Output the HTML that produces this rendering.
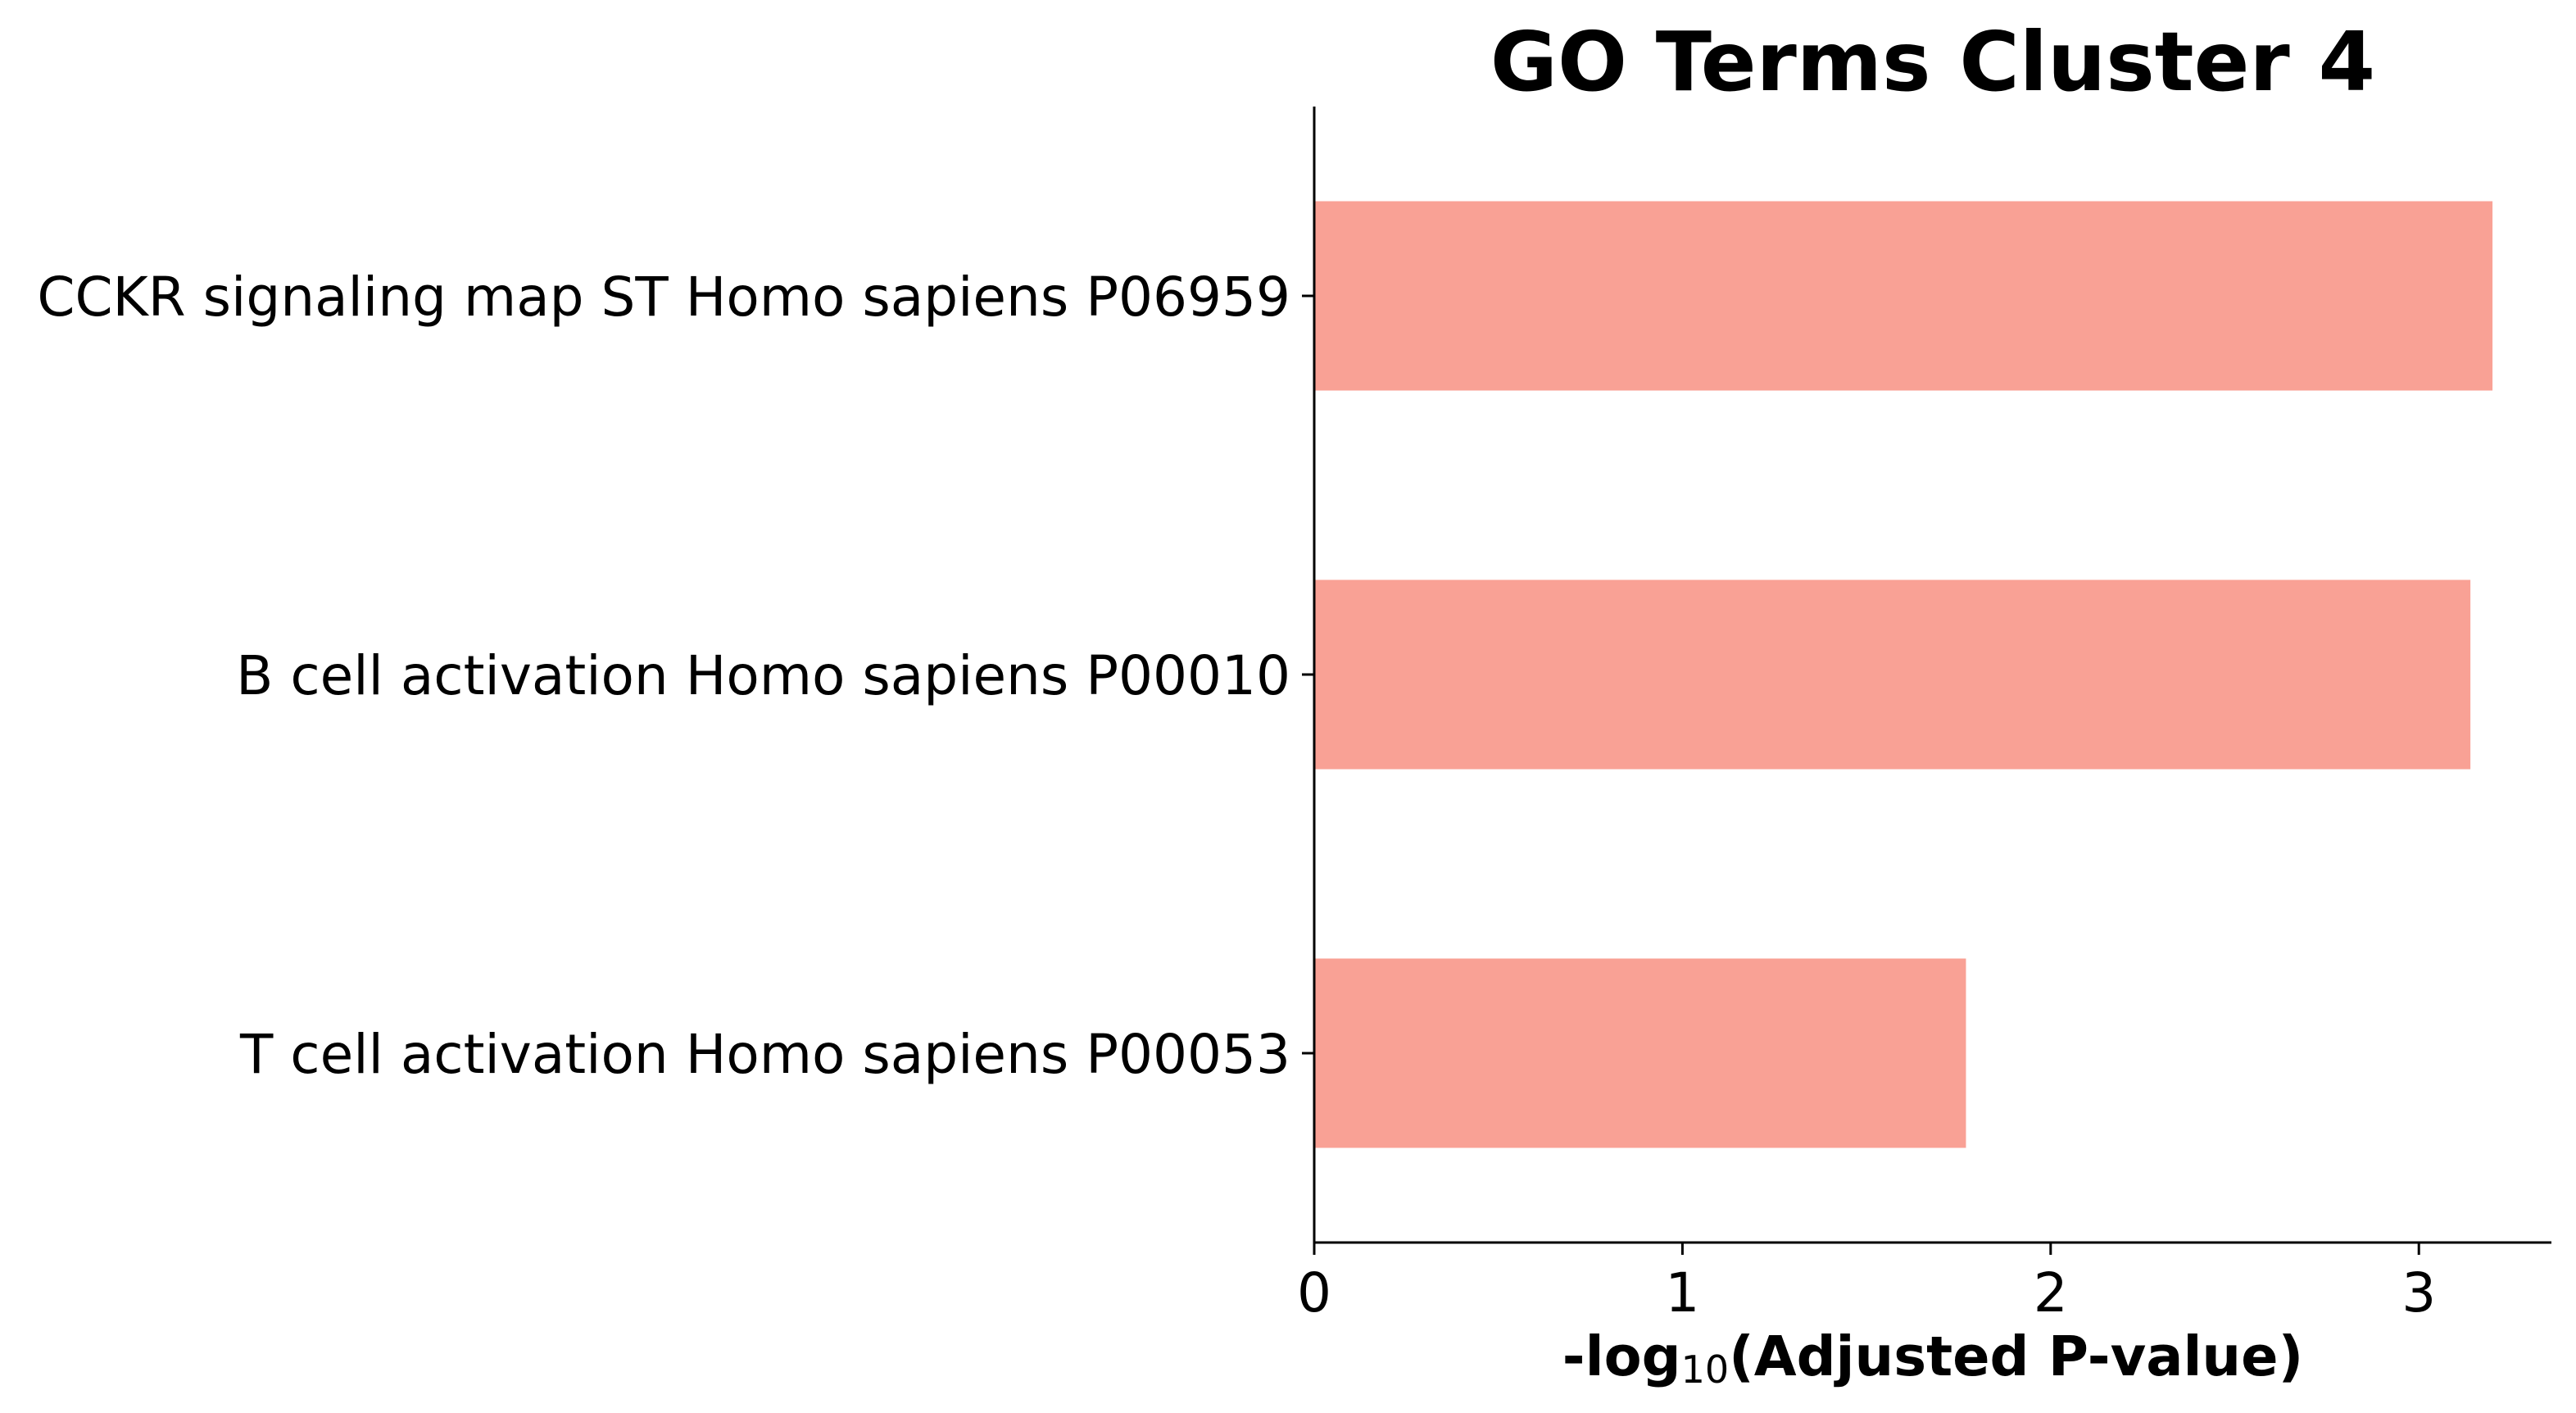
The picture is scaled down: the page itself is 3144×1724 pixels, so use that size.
<!DOCTYPE html>
<html><head><meta charset="utf-8"><style>
html,body{margin:0;padding:0;background:#fff;}
svg{display:block;font-family:"DejaVu Sans","Liberation Sans",sans-serif;}
</style></head><body>
<svg id="chart" width="3144" height="1724" viewBox="0 0 3144 1724">
<text x="2359" y="110" font-size="100" font-weight="bold" text-anchor="middle">GO Terms Cluster 4</text>
<g id="bars"></g>
<g id="axes"></g>
<text x="2359" y="1678" font-size="67" font-weight="bold" text-anchor="middle">-log<tspan font-size="46" font-weight="normal" dy="9">10</tspan><tspan dy="-9">(Adjusted P-value)</tspan></text>
</svg>
<script>
const categories = ["CCKR signaling map ST Homo sapiens P06959","B cell activation Homo sapiens P00010","T cell activation Homo sapiens P00053"];
const values = [3.20, 3.14, 1.77];
const xTicks = [0, 1, 2, 3];
const xMax = 3.36;

const L = 1604, R = 3114, T = 130, B = 1516;
const NS = "http://www.w3.org/2000/svg";
const xs = v => L + (v / xMax) * (R - L);
const band = (B - T) / 3;
const yc = i => T + band * (i + 0.5);
const bh = band * 0.5;

const bars = document.getElementById('bars');
const axes = document.getElementById('axes');
function mk(tag, attrs, parent){const e=document.createElementNS(NS,tag);for(const k in attrs)e.setAttribute(k,attrs[k]);parent.appendChild(e);return e;}

values.forEach((v,i)=>{
  const r = mk('rect',{x:xs(0),y:yc(i)-bh/2,width:xs(v)-xs(0),height:bh,fill:'#f9a195'},bars);
  
  
  const t = mk('line',{x1:L-15,x2:L,y1:yc(i),y2:yc(i),stroke:'#000','stroke-width':3},axes);
  
  
  const lb = mk('text',{x:L-29,y:yc(i)+24,'font-size':66,'text-anchor':'end'},axes);
  lb.textContent = categories[i];
  
  
});
const ys = mk('line',{x1:L,x2:L,y1:T,y2:B+1.5,stroke:'#000','stroke-width':3},axes);


const xsp = mk('line',{x1:L-1.5,x2:R,y1:B,y2:B,stroke:'#000','stroke-width':3},axes);


xTicks.forEach(v=>{
  const t = mk('line',{x1:xs(v),x2:xs(v),y1:B,y2:B+15,stroke:'#000','stroke-width':3},axes);
  
  
  const lb = mk('text',{x:xs(v),y:1600,'font-size':66,'text-anchor':'middle'},axes);
  lb.textContent = String(v);
  
  
});
</script>
</body></html>
